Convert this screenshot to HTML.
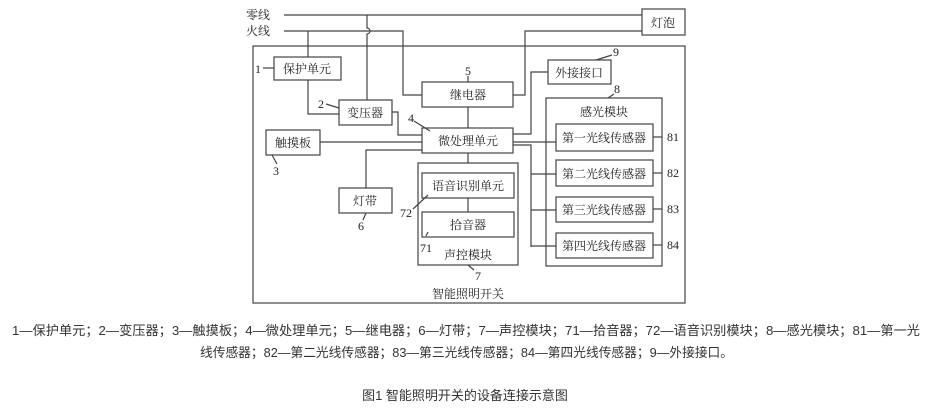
<!DOCTYPE html>
<html><head><meta charset="utf-8"><style>
html,body{margin:0;padding:0;background:#fff;width:930px;height:408px;overflow:hidden}
svg{position:absolute;left:0;top:0}
.d{font-family:"Liberation Serif","Noto Serif CJK SC",serif;font-size:12px;fill:#222}
.c{font-family:"Liberation Sans","Noto Sans CJK SC",sans-serif;font-size:13px;fill:#333}
</style></head><body>
<svg width="930" height="408" viewBox="0 0 930 408">
<g fill="none" stroke="#444" stroke-width="1.2">
<rect x="253" y="46" width="432" height="257"/>
<rect x="642" y="9" width="43" height="26"/>
<rect x="274" y="57" width="67" height="23"/>
<rect x="339" y="100" width="53" height="25"/>
<rect x="422" y="82" width="91" height="25"/>
<rect x="548" y="60" width="63" height="24"/>
<rect x="422" y="128" width="91" height="25"/>
<rect x="266" y="130" width="54" height="25"/>
<rect x="546" y="98" width="116" height="168"/>
<rect x="556" y="124" width="97" height="27"/>
<rect x="556" y="160" width="97" height="26"/>
<rect x="556" y="197" width="97" height="25"/>
<rect x="556" y="233" width="97" height="25"/>
<rect x="339" y="188" width="53" height="25"/>
<rect x="418" y="163" width="100" height="102"/>
<rect x="422" y="173" width="92" height="25"/>
<rect x="422" y="212" width="92" height="25"/>
<!-- wires -->
<polyline points="284,15 642,15"/>
<polyline points="284,31 403,31 403,95 422,95"/>
<polyline points="308,31 308,57"/>
<polyline points="308,80 308,114 339,114"/>
<path d="M367,15 V28 A3,3 0 0 1 367,34 V100"/>
<polyline points="513,95 525,95 525,31 642,31"/>
<polyline points="468,107 468,128"/>
<polyline points="392,112 398,112 398,135 422,135"/>
<polyline points="320,142 422,142"/>
<polyline points="366,188 366,150 422,150"/>
<polyline points="513,134 531,134 531,72 548,72"/>
<polyline points="513,142 556,142"/>
<polyline points="513,145 531,145 531,247"/>
<polyline points="531,174 556,174"/>
<polyline points="531,210 556,210"/>
<polyline points="531,246 556,246"/>
<polyline points="468,153 468,163"/>
<polyline points="468,198 468,212"/>
<!-- leaders -->
<line x1="263" y1="68" x2="274" y2="68"/>
<line x1="326" y1="104" x2="339" y2="108"/>
<line x1="414" y1="121" x2="430" y2="131"/>
<line x1="468" y1="76" x2="468" y2="82"/>
<line x1="596" y1="60" x2="612" y2="55"/>
<line x1="608" y1="98" x2="614" y2="94"/>
<line x1="653" y1="137" x2="662" y2="137"/>
<line x1="653" y1="173" x2="662" y2="173"/>
<line x1="653" y1="209" x2="662" y2="209"/>
<line x1="653" y1="245" x2="662" y2="245"/>
<line x1="272" y1="155" x2="277" y2="164"/>
<line x1="366" y1="213" x2="363" y2="220"/>
<line x1="413" y1="209" x2="428" y2="195"/>
<line x1="426" y1="236" x2="428" y2="232"/>
<line x1="468" y1="265" x2="474" y2="270"/>
</g>
<g class="d" text-anchor="middle">
<text x="270" y="19" text-anchor="end">零线</text>
<text x="270" y="35" text-anchor="end">火线</text>
<text x="663" y="27">灯泡</text>
<text x="307" y="73">保护单元</text>
<text x="258" y="73">1</text>
<text x="365" y="117">变压器</text>
<text x="321" y="108">2</text>
<text x="468" y="99">继电器</text>
<text x="468" y="75">5</text>
<text x="579" y="77">外接接口</text>
<text x="616" y="56">9</text>
<text x="617" y="93">8</text>
<text x="468" y="145">微处理单元</text>
<text x="411" y="122">4</text>
<text x="293" y="147">触摸板</text>
<text x="276" y="175">3</text>
<text x="604" y="116">感光模块</text>
<text x="604" y="142">第一光线传感器</text>
<text x="604" y="178">第二光线传感器</text>
<text x="604" y="214">第三光线传感器</text>
<text x="604" y="250">第四光线传感器</text>
<text x="673" y="141">81</text>
<text x="673" y="177">82</text>
<text x="673" y="213">83</text>
<text x="673" y="249">84</text>
<text x="365" y="205">灯带</text>
<text x="361" y="230">6</text>
<text x="468" y="190">语音识别单元</text>
<text x="468" y="229">拾音器</text>
<text x="406" y="217">72</text>
<text x="426" y="252">71</text>
<text x="468" y="259">声控模块</text>
<text x="478" y="280">7</text>
<text x="468" y="298">智能照明开关</text>
</g>
<g class="c">
<text x="12" y="335" textLength="908" lengthAdjust="spacingAndGlyphs">1—保护单元；2—变压器；3—触摸板；4—微处理单元；5—继电器；6—灯带；7—声控模块；71—拾音器；72—语音识别模块；8—感光模块；81—第一光</text>
<text x="200" y="357" textLength="533" lengthAdjust="spacingAndGlyphs">线传感器；82—第二光线传感器；83—第三光线传感器；84—第四光线传感器；9—外接接口。</text>
<text x="465" y="400" text-anchor="middle">图1 智能照明开关的设备连接示意图</text>
</g>
</svg>
</body></html>
